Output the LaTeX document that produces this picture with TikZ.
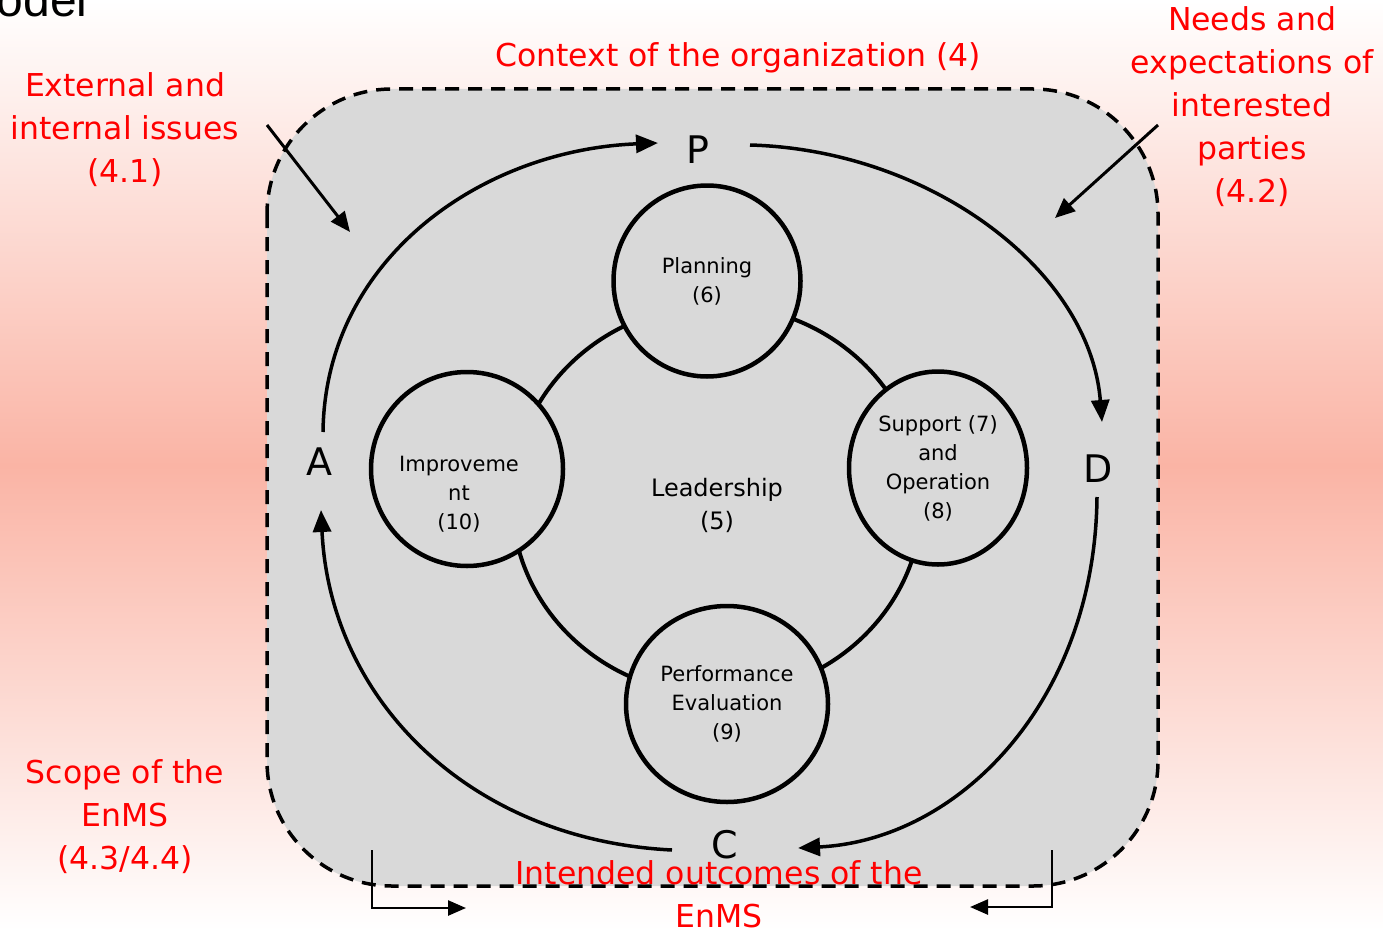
\documentclass[tikz,border=0pt]{standalone}
\usepackage{fontspec}
\setmainfont{DejaVu Sans}
\newfontfamily\arialfam{Liberation Sans}
\usepackage{tikz}
\usetikzlibrary{shapes.geometric}
\usetikzlibrary{arrows.meta}

\definecolor{grisfondo}{RGB}{217,217,217}
\definecolor{rosafondo}{RGB}{250,180,165}
\definecolor{rojotexto}{RGB}{255,0,0}

\begin{document}
\begin{tikzpicture}[x=1pt,y=-1pt]
  % Definimos los estilos para los circulos, las letras y las flechas
    \tikzstyle{fase} = [draw, line width=4.5pt, fill=grisfondo, ellipse, inner sep=0pt, align=center, font=\fontsize{21}{29}\selectfont];
  \tikzstyle{letra} = [font=\fontsize{38}{38}\selectfont];
  \tikzstyle{rojo} = [text=rojotexto, align=center, font=\fontsize{31.5}{43}\selectfont];
  \tikzstyle{ciclo} = [line width=3.5pt, -{Triangle[length=22pt,width=18pt]}];
  \tikzstyle{flecha} = [line width=3pt, -{Triangle[length=20pt,width=17pt]}];
  \tikzstyle{codo} = [line width=2.5pt, -{Triangle[length=18pt,width=15pt]}];

  % Fondo con degradado
    \useasboundingbox (0,0) rectangle (1383,931);
  \clip (0,0) rectangle (1383,931);
  \shade[top color=white, bottom color=white, middle color=rosafondo] (0,0) rectangle (1383,931);
  \node[anchor=base east, font=\arialfam\fontsize{48}{48}\selectfont] (titulo) at (91,17) {Model};

  % Dibujamos el contexto de la organizacion (rectangulo discontinuo)
    \draw[fill=grisfondo, line width=3.5pt, dash pattern=on 14pt off 9pt, rounded corners=125pt] (267,89) rectangle (1158,886);

  % Anillo de liderazgo
    \draw[line width=4pt] (717,500) ellipse [x radius=205pt, y radius=195pt];
  \node[font=\fontsize{24}{33}\selectfont, align=center] (lider) at (717,505) {Leadership\\(5)};

  % Dibujamos los circulos de cada fase
    \node [fase, minimum width=187pt, minimum height=191pt] (plan) at (707,281) {Planning\\(6)};
  \node [fase, minimum width=192pt, minimum height=194pt] (mejora) at (467,469) {};
  \node [align=center, font=\fontsize{21}{29}\selectfont] (mejoratxt) at ([shift={(-8,25)}]mejora.center) {Improveme\\nt\\(10)};
  \node [fase, minimum width=178pt, minimum height=193pt] (soporte) at (938,468) {Support (7)\\and\\Operation\\(8)};
  \node [fase, minimum width=202pt, minimum height=196pt] (eval) at (727,704) {Performance\\Evaluation\\(9)};

  % Letras del ciclo PDCA
    \node [letra] (P) at (698,150) {P};
  \node [letra] (D) at (1098,469) {D};
  \node [letra] (C) at (725,845) {C};
  \node [letra] (A) at (319,462) {A};

  % Flechas del ciclo
    \draw[ciclo] ([shift={(4,-30)}]A.center) .. controls (325,260) and (480,150) .. ([shift={(-40,-7)}]P.center);
  \draw[ciclo] ([shift={(52,-5)}]P.center) .. controls (930,150) and (1090,270) .. ([shift={(4,-47)}]D.center);
  \draw[ciclo] ([shift={(-1,28)}]D.center) .. controls (1095,700) and (960,840) .. ([shift={(73,3)}]C.center);
  \draw[ciclo] ([shift={(-53,5)}]C.center) .. controls (470,840) and (330,700) .. ([shift={(2,48)}]A.center);

  % Etiquetas en rojo
    \node [rojo] (contexto) at (738,58) {Context of the organization (4)};
  \node [rojo] (externo) at (125,130) {External and\\internal issues\\(4.1)};
  \node [rojo] (partes) at (1252,107) {Needs and\\expectations of\\interested\\parties\\(4.2)};
  \node [rojo] (alcance) at (125,817) {Scope of the\\EnMS\\(4.3/4.4)};

  % Flechas de entrada
    \coordinate (extini) at (267,125);
  \coordinate (extfin) at (350,232);
  \coordinate (parini) at (1158,125);
  \coordinate (parfin) at (1055,218);
  \draw[flecha] (extini) -- (extfin);
  \draw[flecha] (parini) -- (parfin);

  % Flechas de salida (resultados)
    \coordinate (salizq) at (372,850);
  \coordinate (salizqfin) at (466,908);
  \coordinate (salder) at (1052,850);
  \coordinate (salderfin) at (970,907);
  \draw[codo] (salizq) |- (salizqfin);
  \draw[codo] (salder) |- (salderfin);
  \node [rojo] (resultados) at (719,894) {Intended outcomes of the\\EnMS};
\end{tikzpicture}
\end{document}
